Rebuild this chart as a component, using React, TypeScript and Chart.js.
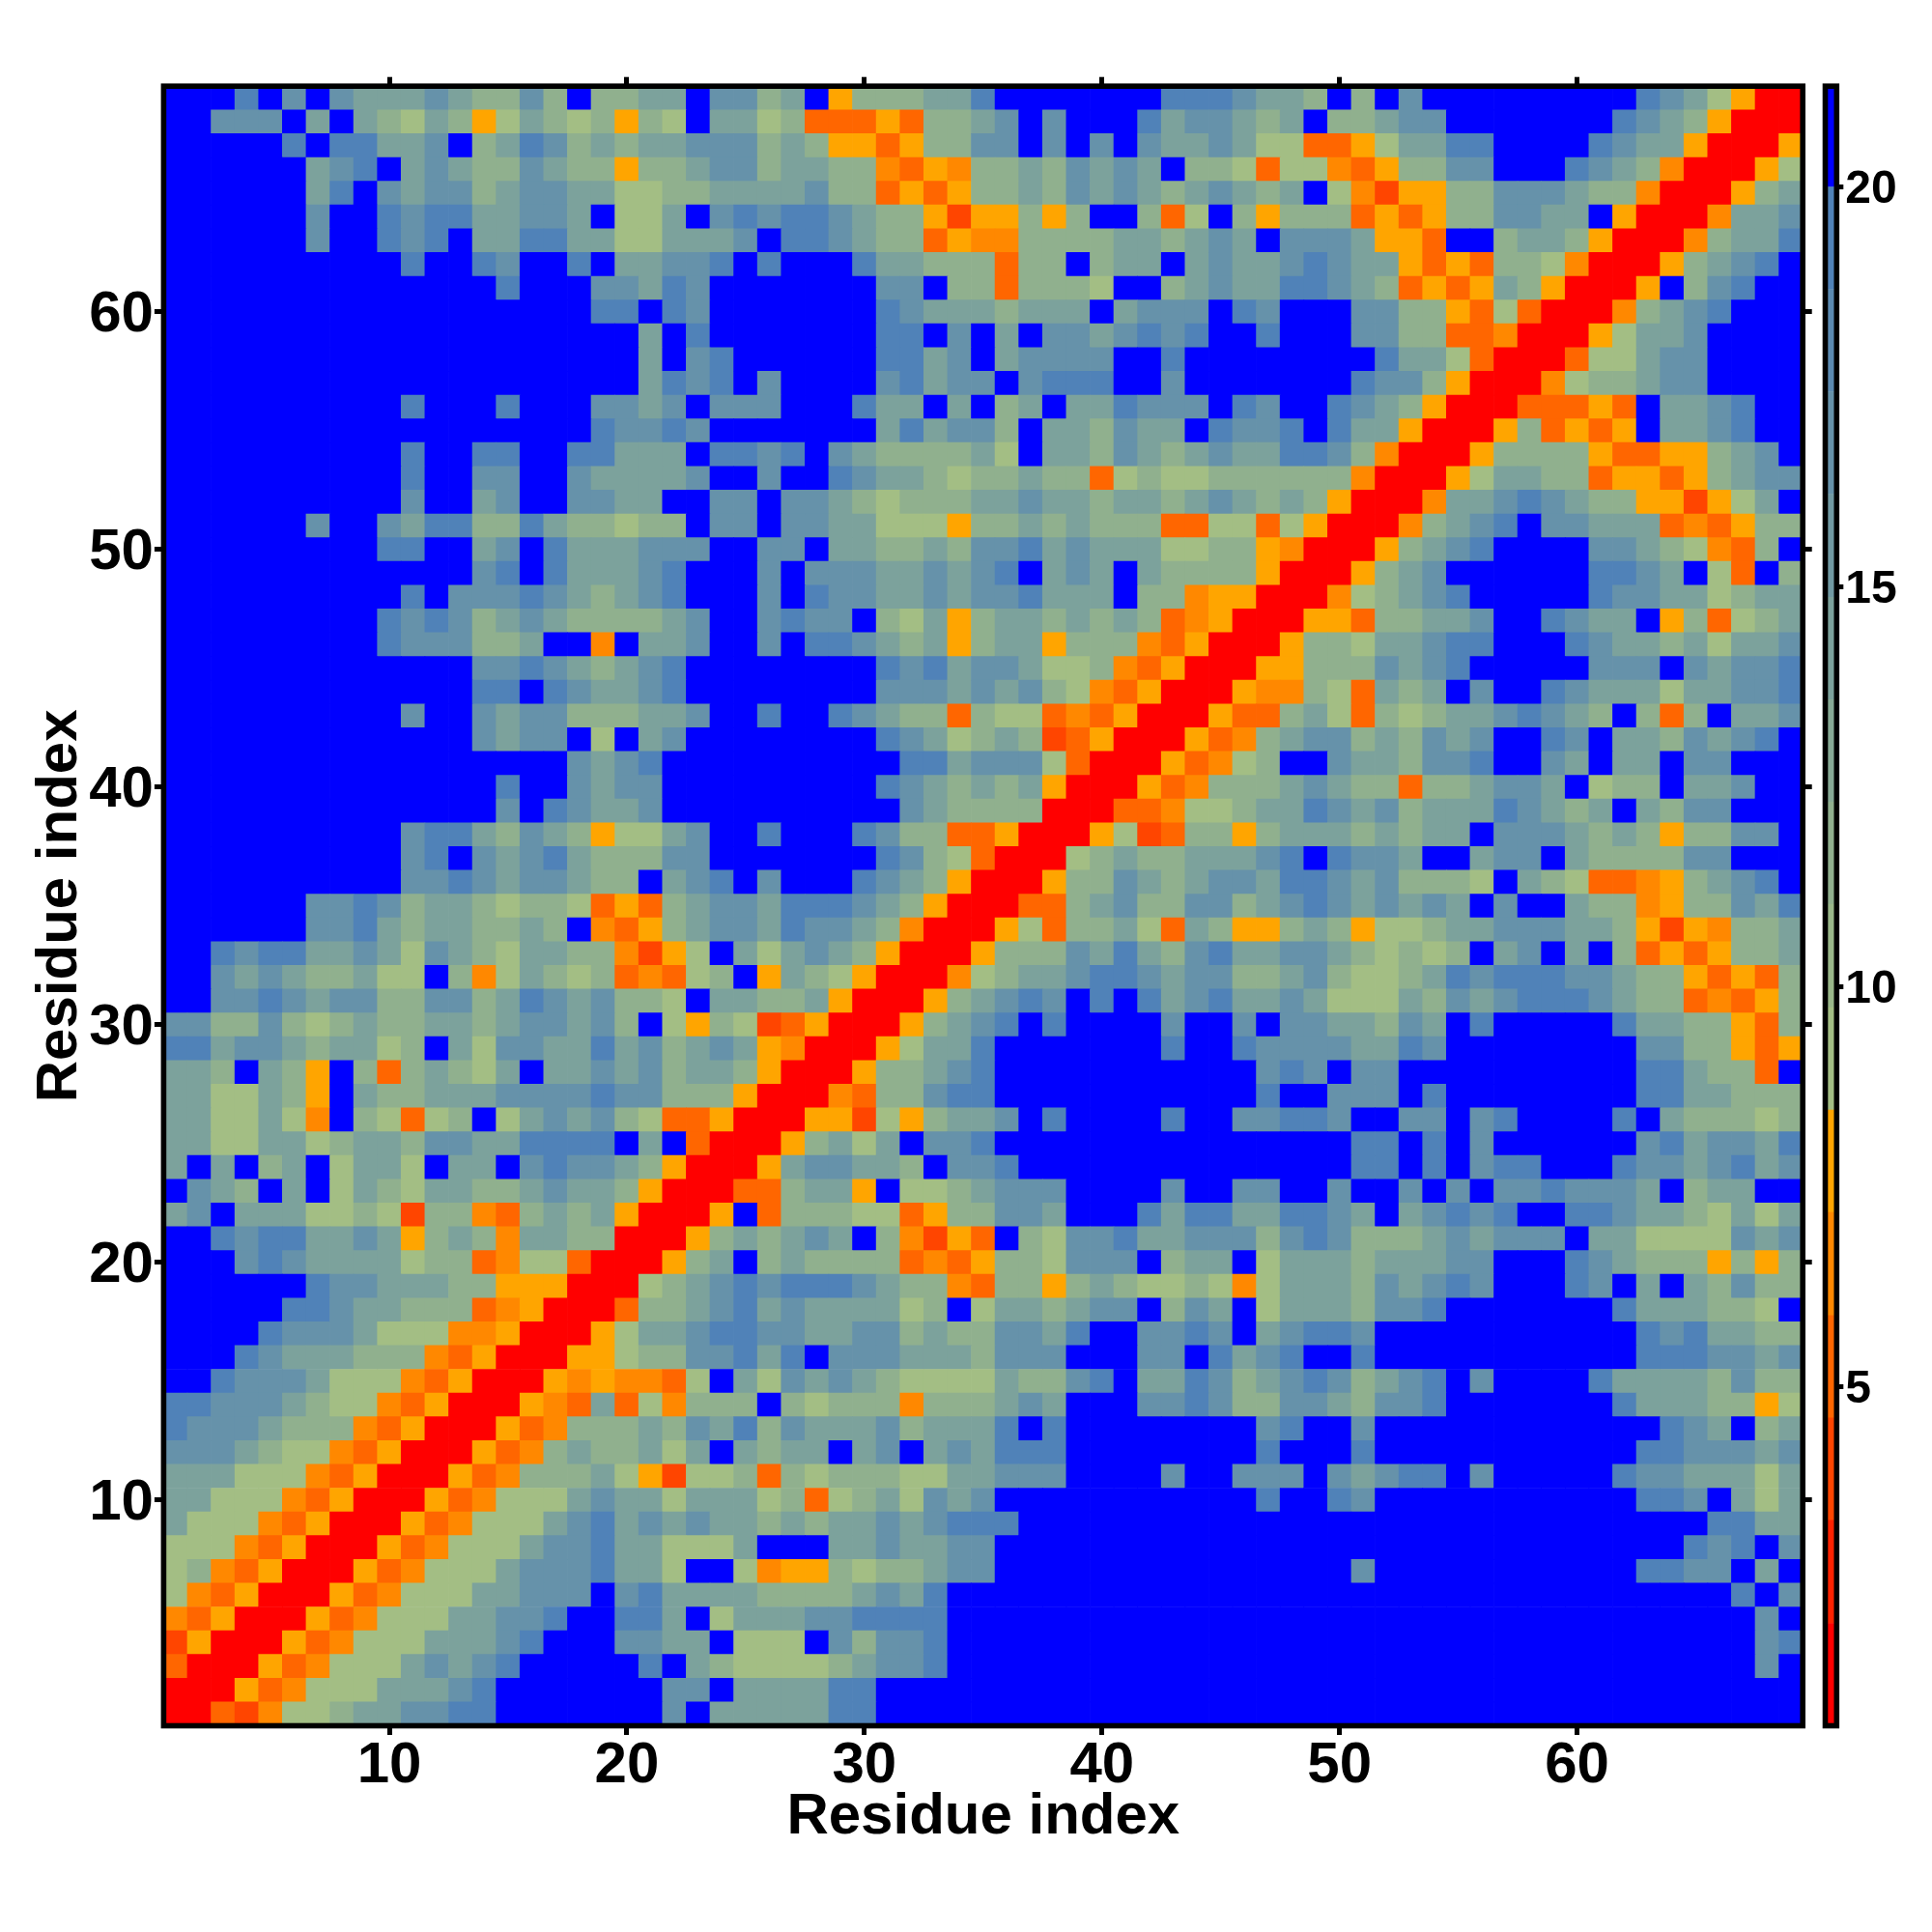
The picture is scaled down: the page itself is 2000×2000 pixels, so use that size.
import React, { useEffect, useRef } from "react";
import { Chart, registerables } from "chart.js";

Chart.register(...registerables);

const FONT = "'Liberation Sans', Arial, sans-serif";
const axisTitle = "Residue index";
const axisTicks = [10, 20, 30, 40, 50, 60];
const colorbarTicks = [5, 10, 15, 20];
const colorbarEdges = [0.76, 2.04, 3.33, 4.61, 5.89, 7.18, 8.46, 9.74, 11.03, 12.31, 13.59, 14.87, 16.16, 17.44, 18.72, 20.0, 21.26];
const levelColors = [
  "#FF0000", "#FF2200", "#FF4500", "#FF6600", "#FF8800", "#FFA500",
  "#A3BE84", "#99B789", "#90B08E", "#87AA95", "#7CA29C", "#719AA3", "#6692AA", "#5B8AB1", "#5082B8", "#0000FF",
];
// Distance (angstrom) read for each code in the table below.
const codeDistance: Record<string, number> = {
  "0": 1.4, "1": 3.97, "2": 5.25, "3": 6.53, "4": 7.82, "5": 9.1, "6": 11.7, "7": 14.2, "8": 16.8, "9": 19.4, B: 20.6,
};
// Contact map rows, from residue 69 (top) down to residue 1; B{n} = n cells above the cut-off.
const mapRows = [
  "B B B 9 B 8 B 8 7 7 7 8 7 6 6 8 6 B 6 6 7 7 B 8 8 6 7 B 4 6 6 6 7 7 9 B{7} 9 9 9 8 7 7 6 B 6 B 8 B{9} 9 8 7 5 4 0 0",
  "B B 8 8 8 B 7 B 7 6 5 7 6 4 5 7 6 5 6 4 6 5 B 7 7 5 6 2 2 2 4 2 6 6 7 8 B 8 B B B 9 7 8 8 7 6 7 B 6 6 7 8 8 B{7} 9 8 7 6 4 0 0 0",
  "B{5} 9 B 9 9 7 7 8 B 6 7 9 8 6 7 6 7 7 8 8 8 6 7 6 4 4 2 4 6 6 8 8 B 8 B 8 B 8 7 7 8 7 5 5 2 2 4 5 7 7 9 9 B{4} 9 8 7 7 4 0 0 0 4",
  "B{6} 7 8 9 B 7 8 7 6 6 8 7 6 6 4 6 6 7 8 8 6 7 7 6 6 3 2 4 3 6 6 7 6 8 7 8 7 B 6 6 5 2 5 5 3 2 4 6 6 8 8 B B B 9 8 7 6 3 0 0 0 4 5",
  "B{6} 7 9 B 8 7 8 8 6 7 8 8 7 7 5 5 6 6 7 7 7 7 8 6 6 2 4 2 4 6 6 7 6 8 7 8 7 6 7 8 7 6 7 B 5 3 1 4 4 6 6 8 8 8 7 6 6 3 0 0 0 4 6 7",
  "B{6} 8 B B 9 8 9 9 7 7 8 8 7 B 5 5 7 B 8 9 8 9 9 8 7 6 6 4 1 4 4 6 4 6 B B 6 2 5 B 6 4 6 6 6 2 4 2 4 6 6 8 8 7 7 B 4 0 0 0 3 7 7 8",
  "B{6} 8 B B 9 8 9 B 7 7 9 9 7 7 5 5 7 7 7 8 B 9 9 8 7 6 6 2 4 3 3 6 6 6 6 7 7 6 7 8 7 B 8 8 8 7 4 4 2 B B 6 7 7 6 4 0 0 0 3 6 7 7 9",
  "B{10} 9 B B 9 8 B B 9 B 7 7 8 8 9 B 9 B B B 9 7 7 6 6 6 2 6 6 B 6 7 7 B 7 8 7 7 8 9 8 7 7 4 2 4 2 6 6 5 3 0 0 0 4 6 7 8 9 B",
  "B{14} 9 B B B 8 8 7 9 8 B{7} 8 8 B 6 6 2 6 6 6 5 B B 6 7 8 7 7 9 9 8 7 6 2 4 2 4 7 6 4 0 0 0 4 B 6 8 9 B B",
  "B{18} 9 9 B 9 8 B{7} 9 8 7 7 7 6 7 7 7 B 7 8 8 8 B 9 8 B B B 8 8 6 6 4 2 5 2 0 0 0 3 6 7 8 9 B B B",
  "B{20} 7 B 9 B{7} 9 9 B 8 B 7 B 8 8 7 8 9 8 9 B B 9 B B B 8 8 6 6 2 2 3 0 0 0 4 5 7 7 8 B B B B",
  "B{20} 7 B 8 9 B{6} 9 9 7 8 B 7 8 8 8 8 B B 9 B B B B B B B B 9 7 7 5 2 0 0 0 2 5 5 7 8 8 B B B B",
  "B{20} 7 9 8 9 B 8 B{4} 8 9 7 8 8 B 8 9 9 9 B B 8 B B B B B B B 9 8 8 6 4 0 0 0 3 5 6 6 7 8 8 B B B B",
  "B{10} 9 B B B 9 B B B 8 8 7 8 B 8 8 8 B B B 9 7 7 B 7 B 6 7 B 7 7 9 8 8 8 B 9 8 B B 9 8 7 6 4 0 0 0 2 2 2 4 2 B 7 7 8 9 B B",
  "B{18} 9 8 8 9 8 B{7} 7 9 7 8 8 6 B 7 7 6 8 7 7 B 9 8 8 9 B 9 7 7 4 0 0 0 4 6 2 4 2 4 B 7 7 8 9 B B",
  "B{10} 9 B B 9 9 B B 9 9 7 7 7 B 9 9 8 9 B 8 7 6 6 6 6 7 5 B 7 7 6 8 7 6 7 8 7 7 9 9 8 6 3 0 0 0 4 6 6 6 6 4 2 2 4 4 6 7 8 B",
  "B{10} 9 B B 8 8 B B 8 7 7 7 7 8 B B 8 B B 9 8 7 7 6 5 6 6 7 6 6 2 5 6 5 5 6 6 6 6 6 6 3 0 0 0 4 5 7 7 6 6 2 4 4 2 4 6 7 8 8",
  "B{10} 8 B B 7 8 B B 8 8 7 7 B B 8 8 B 8 8 7 6 5 6 6 6 7 7 8 7 7 6 7 7 6 7 8 7 6 7 6 4 0 0 0 3 7 7 8 9 8 7 6 6 4 4 1 4 5 7 B",
  "B{6} 8 B B 8 7 9 9 6 6 9 7 6 6 5 6 6 B 8 8 B 8 8 7 7 5 5 5 4 6 6 7 6 7 6 6 6 2 2 5 5 2 5 4 0 0 0 3 6 7 8 9 B 8 8 7 7 7 2 3 2 4 6 6",
  "B{9} 9 9 B B 7 8 B 9 7 7 7 8 8 8 B B 8 8 B 7 7 6 6 7 6 8 8 9 7 8 7 7 7 5 5 6 6 4 3 0 0 0 4 6 7 8 9 B B B B 8 8 7 6 5 3 2 6 B",
  "B{13} 8 9 B 9 7 7 7 8 9 B B B 8 B 8 8 8 7 7 8 7 8 9 B 7 8 7 B 7 6 6 6 6 4 0 0 0 4 6 7 8 B{6} 9 9 8 7 B 5 2 B 6",
  "B{10} 9 B 8 8 8 9 8 7 6 7 8 9 B B B 8 B 9 8 8 7 7 8 7 8 8 9 7 7 7 B 6 6 3 4 4 0 0 0 3 5 6 7 8 9 B{5} 9 8 8 7 7 5 6 7 7",
  "B{9} 9 8 9 8 6 7 8 7 6 6 6 6 7 8 B B 8 9 8 8 B 6 5 7 4 6 7 7 6 7 6 7 6 2 3 4 0 0 0 4 4 2 6 6 7 7 8 B B 9 8 7 7 B 4 6 2 5 6 7",
  "B{9} 9 8 8 8 6 6 7 B B 3 B 7 7 8 B B 8 B 9 9 8 7 6 7 4 6 7 7 4 6 6 6 3 2 4 0 0 0 4 6 6 5 7 7 8 9 9 B B B 9 8 7 7 6 7 5 7 7 8",
  "B{13} 8 8 9 8 7 6 7 8 9 B B{7} 9 8 9 7 8 8 7 5 5 6 3 2 4 0 0 0 4 4 6 6 6 8 7 8 9 B{5} 8 8 8 B 8 7 8 8 9",
  "B{13} 9 9 B 9 8 7 7 8 9 B B{7} 8 8 8 7 8 7 8 6 5 3 2 4 0 0 0 4 3 3 6 5 2 7 6 7 B 8 B B 9 8 7 7 7 5 7 7 8 8 9",
  "B{10} 8 B B 8 7 8 8 6 6 6 7 7 8 B B 9 B B 9 8 7 6 6 2 6 5 5 2 3 2 4 0 0 0 4 2 2 6 7 5 2 6 5 6 7 7 8 9 8 7 6 B 6 2 6 B 7 7 8",
  "B{13} 8 7 8 8 B 5 B 7 8 B B{7} 9 8 7 5 6 7 6 1 2 4 0 0 0 4 2 3 6 7 8 8 6 7 6 8 7 8 B B 9 8 B 7 7 6 8 7 8 9 B",
  "B{17} 8 7 8 9 B B B{8} 9 9 7 8 8 8 5 2 0 0 0 4 2 3 5 6 B B 8 7 7 6 8 8 9 B B 8 7 B 7 7 B 8 8 B B B",
  "B{14} 9 B B 8 7 8 8 B B B{7} 9 8 7 6 7 6 7 4 0 0 0 4 2 3 6 6 6 7 8 7 6 6 2 6 6 7 8 8 7 B 5 6 6 B 7 7 8 B B",
  "B{14} 8 B 9 8 7 7 8 B B B{8} 8 7 6 6 6 6 0 0 0 2 2 3 5 5 6 7 7 9 8 7 8 6 7 7 7 9 8 7 6 7 B 7 6 8 8 B B B",
  "B{10} 8 9 9 7 6 8 7 6 4 5 5 7 8 B B 9 B B B 9 8 6 6 2 2 4 0 0 0 4 5 1 2 6 6 4 6 7 7 7 6 7 6 7 7 B 8 8 8 7 6 7 6 4 6 6 8 8 B",
  "B{10} 8 9 B 8 7 8 9 7 6 6 6 8 8 B{7} 9 8 6 5 2 0 0 0 5 6 7 6 6 7 7 7 8 9 B 9 8 8 7 B B 7 8 8 B 7 6 6 6 6 8 8 B B B",
  "B{10} 8 8 9 8 7 8 8 7 6 6 B 7 8 9 B 8 B B B 9 8 7 6 4 0 0 0 4 6 6 8 7 6 7 8 8 7 9 9 8 7 8 6 6 6 5 B 7 6 5 2 2 3 4 6 7 8 9 B",
  "B{6} 8 8 9 8 6 7 7 6 5 6 6 5 2 4 2 6 7 8 8 7 9 9 9 8 7 6 4 0 0 0 2 2 6 7 8 6 6 8 8 6 7 8 9 8 7 8 7 8 7 B 8 B B 7 6 6 3 4 6 6 8 7 9",
  "B{6} 8 8 9 7 6 7 7 6 6 7 6 B 3 2 4 6 7 8 8 7 9 8 8 7 6 3 0 0 0 4 5 2 6 6 7 5 2 7 6 4 4 6 7 6 4 5 5 6 7 7 8 8 8 7 7 6 4 1 4 3 6 6 7",
  "B B 9 8 9 9 7 7 8 7 5 8 7 6 5 7 7 6 6 3 1 4 5 B 7 5 7 8 7 6 4 0 0 0 4 6 6 6 8 7 9 7 6 8 9 7 7 8 8 7 6 5 6 5 6 B 7 8 B 7 B 6 2 4 2 4 6 6 7",
  "B B 8 7 8 7 6 6 7 5 5 B 6 3 5 7 6 5 6 2 3 2 5 6 B 4 7 6 5 4 0 0 0 3 5 6 7 7 8 9 9 8 7 8 8 6 6 7 8 6 5 5 6 7 9 8 9 9 9 8 8 7 6 6 4 2 4 2 6",
  "B B 8 8 9 8 7 8 8 6 6 8 8 6 7 9 8 7 8 6 6 5 B 7 7 6 6 7 4 0 0 0 4 6 7 8 9 8 B 9 B 9 7 8 9 7 7 8 7 5 5 5 7 6 8 7 8 9 9 9 8 7 6 6 2 3 2 4 6",
  "8 8 6 6 8 6 5 6 7 6 6 7 7 6 7 8 8 7 8 6 B 5 4 6 5 1 2 4 0 0 0 4 6 7 8 9 B 9 B B B B 8 B B 8 B 8 8 7 7 6 8 7 B 9 B{5} 9 7 7 6 6 4 2 6",
  "9 9 7 8 8 7 6 7 7 5 6 B 7 5 8 8 7 7 9 7 8 6 7 8 7 4 3 0 0 0 4 5 7 7 9 B{7} 9 B B 9 8 8 8 8 7 7 9 8 B{8} 8 8 6 6 4 2 4",
  "7 7 6 B 7 6 4 B 6 2 6 7 6 5 7 B 7 7 8 7 8 6 7 7 6 4 0 0 0 4 6 6 7 8 9 B{11} 8 9 8 B 8 8 B{10} 9 9 7 6 6 2 B",
  "7 7 5 5 7 6 4 B 7 6 6 7 7 7 8 8 8 8 9 8 8 6 6 6 4 0 0 0 3 2 6 6 8 9 9 B{11} 9 B B 8 8 8 B 9 B{8} 9 9 7 7 6 6 6",
  "7 7 5 5 7 5 3 B 6 5 2 5 6 B 5 7 8 7 8 6 5 2 2 4 0 0 0 4 4 1 5 4 6 7 7 8 B 9 B B B B 9 B B 8 8 9 9 8 B B 8 8 B 8 9 B B B B 9 B 7 6 6 6 5 6",
  "7 7 5 5 7 7 5 6 7 7 6 8 8 7 7 9 9 9 9 B 7 B 2 0 0 0 4 6 7 5 7 B 8 8 9 B{11} B B B B 9 9 B 9 B 8 B{6} 8 9 7 8 8 7 9",
  "7 B 7 B 6 7 B 5 7 7 5 B 7 7 B 8 9 8 8 7 6 4 0 0 0 4 7 8 8 7 7 6 B 8 8 9 B{10} B B B B 9 9 B 9 B 8 9 9 B B B 9 8 8 7 8 9 7 8",
  "B 8 7 6 B 7 B 5 7 6 5 7 7 6 6 7 8 7 7 6 4 0 0 0 2 2 6 7 7 4 B 5 5 6 7 8 8 8 B B B B 8 B B 8 8 B B 8 B B 8 B 8 B 8 8 9 8 8 8 7 B 6 7 7 B B",
  "7 8 B 7 7 7 5 5 6 5 1 6 6 3 2 6 7 6 7 4 0 0 0 4 B 2 6 6 6 5 5 2 4 6 6 8 8 7 B B B 9 7 9 9 7 7 9 9 8 7 B 7 8 9 8 9 B B 9 9 8 7 7 6 5 7 5 7",
  "B B 9 8 9 9 7 7 8 7 4 6 7 6 3 7 7 6 6 0 0 0 4 6 7 6 7 8 7 B 6 3 1 4 2 B 6 5 8 8 9 7 7 8 8 8 6 8 9 8 6 6 6 7 8 7 8 8 8 B 7 7 5 5 5 5 8 7 8",
  "B B B 8 9 8 7 7 7 7 5 6 6 2 3 5 5 2 0 0 0 4 6 7 B 6 7 6 6 6 6 2 3 2 4 6 6 5 8 8 8 B 6 7 7 B 5 7 7 7 6 7 7 7 8 8 B B B 9 8 7 6 6 6 4 6 4 6",
  "B{6} 9 8 8 7 7 7 6 6 4 4 4 0 0 0 5 6 7 8 9 8 9 9 9 8 7 6 6 3 2 6 6 4 6 7 6 5 5 6 5 3 5 7 7 7 6 8 7 8 9 8 B B B 9 8 B 7 B 7 6 8 6 6",
  "B{5} 9 9 8 7 7 6 6 6 2 3 4 0 0 0 2 6 6 7 8 9 7 8 7 7 7 7 5 6 B 5 7 7 6 7 8 8 B 6 8 7 B 5 7 7 7 6 8 8 9 B{7} 9 7 7 7 6 6 5 B",
  "B B B B 9 8 8 8 7 5 5 5 3 3 4 0 0 0 4 5 7 7 8 9 9 8 8 7 7 8 8 6 7 6 6 8 8 7 9 B B 8 8 9 8 B 7 8 9 9 8 B{11} 9 8 9 7 7 6 6",
  "B B B 9 8 7 7 7 6 6 6 3 2 4 0 0 0 4 4 5 6 6 8 8 9 7 9 B 8 8 8 7 7 7 6 8 8 8 B B B 8 8 B 9 7 8 9 B B 9 B{11} 9 9 9 8 8 7 8",
  "B B 9 8 8 8 7 5 5 5 3 2 4 0 0 0 4 3 4 3 3 2 5 B 7 5 8 7 8 7 6 5 5 5 5 7 6 6 8 9 B 7 7 9 8 6 7 8 9 8 6 7 8 9 B 8 B B B B 9 7 7 7 7 6 8 6 6",
  "9 9 8 8 8 7 6 5 5 3 2 4 0 0 0 4 3 2 7 2 5 3 6 6 6 B 6 5 6 6 6 3 6 6 6 7 8 7 B B B 8 8 9 8 6 6 8 8 7 6 8 8 9 B{7} 9 7 7 7 6 6 4 5",
  "9 8 8 8 7 6 6 6 3 2 4 0 0 0 4 2 3 6 6 6 7 6 8 7 9 6 8 7 7 7 8 6 7 7 7 9 B 9 B{8} 8 9 B B 8 B{12} 9 8 7 B 6 7",
  "8 8 8 7 6 5 5 3 2 4 0 0 0 4 2 3 6 7 6 6 7 5 7 B 7 6 7 7 B 7 8 B 7 8 7 9 9 9 B{8} 9 B B B 9 B{11} 9 9 8 8 8 7 8",
  "7 7 7 5 5 5 3 2 4 0 0 0 4 2 3 6 6 6 7 5 4 1 5 5 6 2 6 5 6 6 6 5 5 7 7 8 8 8 B B B B 8 B B 8 8 8 B 8 7 8 9 9 B 8 B{5} 9 8 8 7 7 7 5 7",
  "7 7 5 5 5 3 2 4 0 0 0 4 2 3 5 5 5 7 8 7 7 5 7 7 7 5 6 2 5 6 7 5 8 7 8 B{11} 9 B B 9 8 B{11} 9 9 8 B 7 5 7",
  "7 5 5 5 3 2 4 0 0 0 4 2 3 5 5 5 7 8 9 7 8 7 8 7 7 6 7 6 7 7 8 7 8 9 9 9 B{10} B{19} 9 9 7 7",
  "5 5 5 3 2 4 0 0 0 4 2 3 5 5 5 7 8 8 9 7 7 5 5 5 7 B B B 7 7 8 7 7 8 8 B{11} B{18} 9 8 9 B 8",
  "5 6 3 2 4 0 0 0 4 2 3 5 5 5 7 8 8 8 9 7 7 5 B B 5 3 4 4 6 5 6 6 7 8 8 B{11} B B B B 8 B{11} 9 9 8 8 B 7 B",
  "5 3 2 4 0 0 0 4 2 3 5 5 5 7 7 8 8 8 B 8 9 7 7 7 7 6 6 6 6 7 8 7 9 B{13} B{20} 9 B 8",
  "3 2 4 0 0 0 4 2 3 5 5 5 7 7 8 8 9 B B 9 9 7 B 5 7 7 7 8 8 9 9 9 9 B{13} B{21} 8 B",
  "1 4 0 0 0 4 2 3 5 5 5 7 7 7 8 9 B B B 8 8 7 7 B 5 5 5 B 8 6 8 8 9 B{13} B{21} 8 9",
  "2 0 0 0 4 2 3 5 5 5 7 8 7 8 9 B B B B B 9 B 7 6 5 5 5 5 6 7 8 8 9 B{13} B{21} 8 B",
  "0 0 0 4 2 3 5 5 5 7 7 7 8 9 B{7} 8 8 B 7 7 7 7 9 9 B{16} B{23}",
  "0 0 2 1 3 5 5 6 7 7 8 8 9 9 B{7} 8 B 7 7 7 7 7 9 9 B{16} B{23}",
];

const levelOf = (v: number) => {
  let i = 0;
  while (i < levelColors.length - 1 && v >= colorbarEdges[i + 1]) i++;
  return i;
};

const decoded = mapRows.map((r) =>
  r.replace(/B\{(\d+)\}/g, (_, n) => "B".repeat(Number(n))).replace(/\s+/g, "").split("")
);
const cells: { x: number; y: number; v: number }[] = [];
decoded.forEach((row, r) =>
  row.forEach((code, c) => cells.push({ x: c + 1, y: 69 - r, v: codeDistance[code] }))
);

const framePlugin = {
  id: "frame",
  afterDraw(chart: any) {
    const { ctx, chartArea: a } = chart;
    ctx.save();
    ctx.strokeStyle = "#000";
    ctx.lineWidth = 5.6;
    ctx.lineJoin = "miter";
    ctx.strokeRect(a.left, a.top, a.right - a.left, a.bottom - a.top);
    ctx.restore();
  },
};

const fixTicks = (vals: number[]) => (s: any) => {
  s.ticks = vals.map((value) => ({ value }));
};
const tickGrid = (len: number) => ({
  drawOnChartArea: false,
  drawTicks: true,
  tickLength: len,
  tickWidth: 5,
  tickColor: "#000",
});
const boldFont = (size: number) => ({ family: FONT, size, weight: "bold" as const });

export default function App() {
  const mainRef = useRef<HTMLCanvasElement>(null);
  const barRef = useRef<HTMLCanvasElement>(null);
  useEffect(() => {
    const mainChart = new Chart(mainRef.current!, {
      type: "scatter",
      data: {
        datasets: [
          {
            data: cells,
            showLine: false,
            pointStyle: "rect",
            pointBorderWidth: 0,
            pointBackgroundColor: cells.map((d) => levelColors[levelOf(d.v)]),
            pointRadius: (ctx: any) => {
              const sx = ctx.chart.scales.x;
              return (Math.abs(sx.getPixelForValue(1) - sx.getPixelForValue(0)) + 0.7) / Math.SQRT2;
            },
          } as any,
        ],
      },
      options: {
        animation: false,
        responsive: false,
        devicePixelRatio: 1,
        events: [],
        layout: { padding: 0 },
        plugins: { legend: { display: false }, tooltip: { enabled: false } },
        scales: {
          x: {
            type: "linear",
            position: "bottom",
            min: 0.5,
            max: 69.5,
            afterBuildTicks: fixTicks(axisTicks),
            afterFit: (s: any) => { s.height = 213.5; },
            border: { display: false },
            grid: tickGrid(9.5),
            ticks: { color: "#000", font: boldFont(60), padding: -4, maxRotation: 0, autoSkip: false },
            title: { display: true, text: axisTitle, color: "#000", font: boldFont(60), padding: { bottom: 83 } },
          },
          x2: {
            type: "linear",
            position: "top",
            min: 0.5,
            max: 69.5,
            afterBuildTicks: fixTicks(axisTicks),
            afterFit: (s: any) => { s.height = 89.2; },
            border: { display: false },
            grid: tickGrid(9.5),
            ticks: { display: false },
          },
          y: {
            type: "linear",
            position: "left",
            min: 0.5,
            max: 69.5,
            afterBuildTicks: fixTicks(axisTicks),
            afterFit: (s: any) => { s.width = 169.4; },
            border: { display: false },
            grid: tickGrid(9.5),
            ticks: { color: "#000", font: boldFont(60), padding: 1, labelOffset: 3.5, autoSkip: false },
            title: { display: true, text: axisTitle, color: "#000", font: boldFont(60), padding: { top: 26 } },
          },
          y2: {
            type: "linear",
            position: "right",
            min: 0.5,
            max: 69.5,
            afterBuildTicks: fixTicks(axisTicks),
            afterFit: (s: any) => { s.width = 133.8; },
            border: { display: false },
            grid: tickGrid(9.5),
            ticks: { display: false },
          },
        },
      } as any,
      plugins: [framePlugin],
    });

    const barChart = new Chart(barRef.current!, {
      type: "bar",
      data: {
        labels: [""],
        datasets: levelColors.map((color, i) => ({
          data: [[colorbarEdges[i], colorbarEdges[i + 1]]],
          backgroundColor: color,
          borderWidth: 0,
          grouped: false,
          barPercentage: 1,
          categoryPercentage: 1,
        })) as any,
      },
      options: {
        animation: false,
        responsive: false,
        devicePixelRatio: 1,
        events: [],
        layout: { padding: { left: 29.5, top: 89.2, bottom: 213.5, right: 0 } },
        plugins: { legend: { display: false }, tooltip: { enabled: false } },
        scales: {
          x: { display: false },
          y: {
            type: "linear",
            position: "right",
            min: 0.76,
            max: 21.26,
            afterBuildTicks: fixTicks(colorbarTicks),
            afterFit: (s: any) => { s.width = 98.7; },
            border: { display: false },
            grid: tickGrid(7),
            ticks: { color: "#000", font: boldFont(48), padding: 2, labelOffset: 3, autoSkip: false },
          },
        },
      } as any,
      plugins: [framePlugin],
    });
    return () => {
      mainChart.destroy();
      barChart.destroy();
    };
  }, []);
  return (
    <div style={{ position: "absolute", left: 0, top: 0, width: 2000, height: 2000, background: "#fff" }}>
      <canvas ref={mainRef} width={2000} height={2000} style={{ position: "absolute", left: 0, top: 0 }} />
      <canvas ref={barRef} width={140} height={2000} style={{ position: "absolute", left: 1860, top: 0 }} />
    </div>
  );
}
